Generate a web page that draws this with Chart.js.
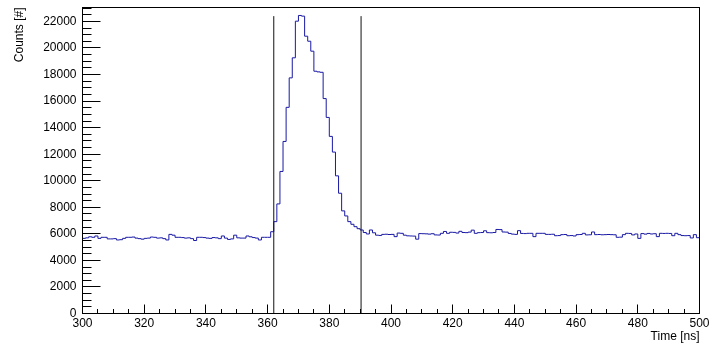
<!DOCTYPE html>
<html>
<head>
<meta charset="utf-8">
<script src="https://cdn.jsdelivr.net/npm/chart.js@4.4.1/dist/chart.umd.min.js"></script>
<style>
  html, body { margin: 0; padding: 0; background: #fff; }
  #wrap { width: 709px; height: 343px; }
</style>
</head>
<body>
<div id="wrap"><canvas id="timeChart" width="709" height="343"></canvas></div>
<script>
// histogram: 1 ns bins starting at 300 ns
const binStart = 300;
const binWidth = 1;
const counts = [
    5660, 5700, 5780, 5740, 5840, 5660, 5740, 5740, 5620, 5620,   // 300
    5640, 5540, 5560, 5660, 5740, 5740, 5760, 5680, 5640, 5600,   // 310
    5660, 5680, 5760, 5740, 5680, 5700, 5640, 5540, 5960, 5900,   // 320
    5740, 5740, 5720, 5680, 5700, 5640, 5500, 5740, 5740, 5720,   // 330
    5680, 5660, 5720, 5700, 5640, 5840, 5680, 5580, 5620, 5900,   // 340
    5700, 5680, 5680, 5840, 5780, 5720, 5680, 5540, 5740, 5740,   // 350
    5740, 6160, 6920, 8255, 10700, 12960, 15530, 17750, 19260, 22020,   // 360
    22450, 22400, 20890, 20510, 19760, 18250, 18200, 18170, 16190, 14770, // 370
    13340, 12160, 10370, 9060, 7730, 7350, 6920, 6720, 6540, 6390, // 380
    6290, 6100, 5990, 6290, 6080, 5900, 5880, 5960, 5970, 5950,   // 390
    5960, 5790, 6060, 6040, 5900, 5850, 5840, 5830, 5600, 6020,   // 400
    6010, 6000, 5980, 6010, 5920, 5910, 6040, 6180, 6040, 6120,   // 410
    6110, 6060, 6190, 6100, 6090, 6130, 6280, 6040, 6090, 6100,   // 420
    6230, 6090, 6080, 6100, 6330, 6320, 6140, 6130, 6030, 5980,   // 430
    5960, 6240, 6030, 6020, 6040, 6040, 5790, 6040, 6040, 6040,   // 440
    5960, 5960, 5970, 5860, 5870, 5940, 5950, 5860, 5870, 5840,   // 450
    5940, 5950, 6040, 5920, 5930, 6140, 5940, 5950, 5930, 5940,   // 460
    5950, 5940, 5930, 5740, 5750, 5940, 6040, 6030, 5920, 5990,   // 470
    5660, 6020, 5980, 6030, 5990, 6010, 5790, 6040, 6030, 6040,   // 480
    6030, 5860, 6040, 5940, 5870, 5860, 5870, 5690, 5940, 5710    // 490
];

// time window cuts (vertical lines)
const cutTimes = [362, 390.3];
const cutHeight = 22400;

// labelled ticks
const xTickValues = [300, 320, 340, 360, 380, 400, 420, 440, 460, 480, 500];
const yTickValues = [0, 2000, 4000, 6000, 8000, 10000, 12000, 14000, 16000, 18000, 20000, 22000];

const xRange = [300, 500];
const yRange = [0, 23050];
const xMajor = 20, xMinor = 5;
const yMajor = 2000, yMinor = 500;

const fontFamily = "'Liberation Sans', Arial, Helvetica, sans-serif";

const histPoints = counts.map((c, i) => ({ x: binStart + i * binWidth, y: c }));
histPoints.push({ x: binStart + counts.length * binWidth, y: counts[counts.length - 1] });

const cutSets = cutTimes.map(t => ({
    data: [{ x: t, y: 0 }, { x: t, y: cutHeight }],
    borderColor: '#111',
    borderWidth: 1,
    pointRadius: 0
}));

// ROOT-like frame with inward ticks
const rootFrame = {
    id: 'rootFrame',
    afterDatasetsDraw(chart) {
        const { ctx, chartArea: a, scales: { x, y } } = chart;
        ctx.save();
        ctx.strokeStyle = '#000';
        ctx.lineWidth = 1;
        ctx.beginPath();
        for (let v = xRange[0]; v <= xRange[1]; v += xMinor) {
            const px = Math.round(x.getPixelForValue(v) - 0.5) + 0.5;
            const len = v % xMajor === 0 ? 9 : 4.5;
            ctx.moveTo(px, a.bottom);
            ctx.lineTo(px, a.bottom - len);
        }
        for (let v = 0; v <= yRange[1]; v += yMinor) {
            const py = Math.round(y.getPixelForValue(v) - 0.5) + 0.5;
            const len = v % yMajor === 0 ? 18 : 9;
            ctx.moveTo(a.left, py);
            ctx.lineTo(a.left + len, py);
        }
        ctx.stroke();
        ctx.strokeRect(a.left, a.top, a.right - a.left, a.bottom - a.top);
        ctx.restore();
    }
};

const ctx = document.getElementById('timeChart').getContext('2d');
new Chart(ctx, {
    type: 'line',
    data: {
        datasets: [...cutSets, {
            data: histPoints,
            borderColor: 'rgb(25, 25, 165)',
            borderWidth: 1,
            pointRadius: 0,
            stepped: true
        }]
    },
    options: {
        responsive: false,
        animation: false,
        devicePixelRatio: 1,
        layout: { padding: { top: 7.5, right: 9.5, left: 0, bottom: 0 } },
        plugins: {
            legend: { display: false },
            tooltip: { enabled: false }
        },
        scales: {
            x: {
                type: 'linear',
                min: xRange[0],
                max: xRange[1],
                grid: { display: false, drawTicks: false },
                border: { display: false },
                afterBuildTicks: s => { s.ticks = xTickValues.map(v => ({ value: v })); },
                ticks: {
                    padding: 3,
                    maxRotation: 0,
                    autoSkip: false,
                    color: '#000',
                    font: { family: fontFamily, size: 12 },
                    callback: v => String(v)
                },
                title: {
                    display: true,
                    text: 'Time [ns]',
                    align: 'end',
                    color: '#000',
                    padding: 0,
                    font: { family: fontFamily, size: 12, lineHeight: 1 }
                },
                afterFit(s) {
                    s.height = 29.5;
                    s.paddingLeft = 0;
                    s.paddingRight = 0;
                }
            },
            y: {
                type: 'linear',
                min: yRange[0],
                max: yRange[1],
                grid: { display: false, drawTicks: false },
                border: { display: false },
                afterBuildTicks: s => { s.ticks = yTickValues.map(v => ({ value: v })); },
                ticks: {
                    padding: 6,
                    autoSkip: false,
                    color: '#000',
                    font: { family: fontFamily, size: 12 },
                    callback: v => String(v)
                },
                title: {
                    display: true,
                    text: 'Counts [#]',
                    align: 'end',
                    color: '#000',
                    padding: { top: 14, bottom: 0 },
                    font: { family: fontFamily, size: 12, lineHeight: 1 }
                },
                afterFit(s) {
                    s.width = 82.5;
                    s.paddingTop = 0;
                    s.paddingBottom = 0;
                }
            }
        }
    },
    plugins: [rootFrame]
});
</script>
</body>
</html>
